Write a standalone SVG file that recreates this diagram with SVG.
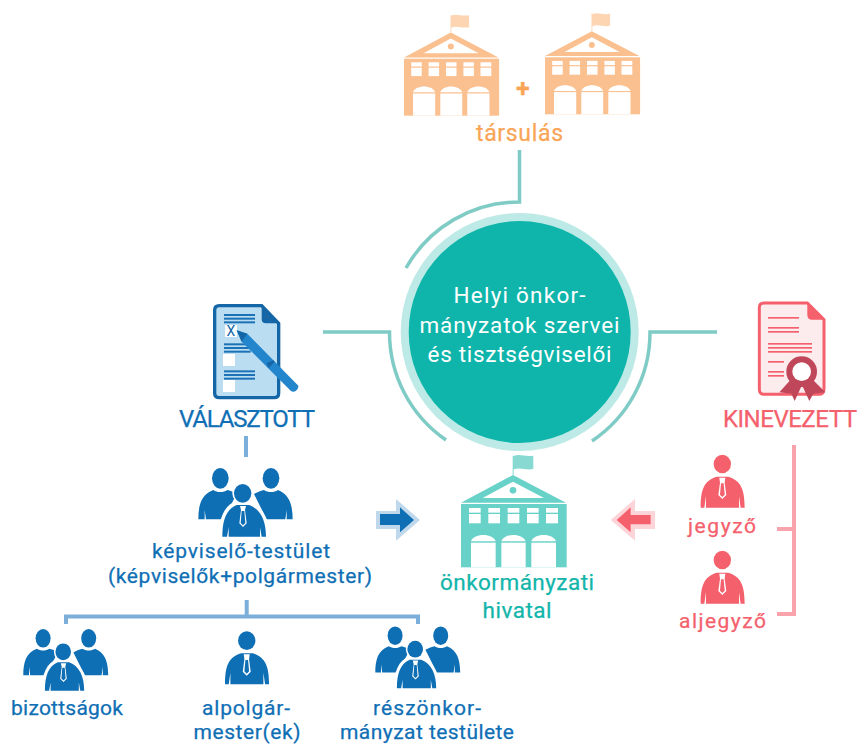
<svg xmlns="http://www.w3.org/2000/svg" xmlns:xlink="http://www.w3.org/1999/xlink" width="857" height="744" viewBox="0 0 857 744">
<style>
text{font-family:"Roboto","Noto Sans","Liberation Sans",sans-serif;font-size:21px;text-anchor:middle}
.b{fill:#0f6fb5;stroke:#0f6fb5;stroke-width:.25}.t{fill:#12b5aa;stroke:#12b5aa;stroke-width:.25}.r{fill:#f4606c;stroke:#f4606c;stroke-width:.25}.o{fill:#f9a557;stroke:#f9a557;stroke-width:.25}.w{fill:#fff}
.arc{fill:none;stroke:#7fcbc5;stroke-width:3.500}
.bl{fill:none;stroke:#7bafd9;stroke-width:4}
.pk{fill:none;stroke:#f9a3ad;stroke-width:4}
.ic{fill:#0f6fb5}.ir{fill:#f4606c}
</style>
<defs>
<symbol id="bld" overflow="visible" viewBox="0 0 1 1" width="1" height="1">
<path class="flag" d="M458,105V47H461V105ZM461,48C480,40 495,52 520,47V87C497,92 482,80 461,88Z" style="fill:var(--fl)"/>
<g style="fill:var(--bc)">
<path d="M459,105L618,188H303Z"/>
<rect x="303" y="192" width="317" height="190"/>
</g>
<g class="w">
<path d="M459,125L552,174H368Z"/>
<rect x="327" y="204" width="35" height="14"/><rect x="385" y="204" width="35" height="14"/><rect x="443" y="204" width="35" height="14"/><rect x="501" y="204" width="35" height="14"/><rect x="558" y="204" width="36" height="14"/>
<rect x="327" y="222" width="35" height="28"/><rect x="385" y="222" width="35" height="28"/><rect x="443" y="222" width="35" height="28"/><rect x="501" y="222" width="35" height="28"/><rect x="558" y="222" width="36" height="28"/>
<path d="M333,304C336,293 352,285 370,285S404,293 407,304ZM424,304C427,293 443,285 460,285S494,293 497,304ZM514,304C517,293 533,285 551,285S585,293 588,304Z"/>
<rect x="333" y="308" width="74" height="74"/><rect x="424" y="308" width="73" height="74"/><rect x="514" y="308" width="74" height="74"/>
</g>
<circle cx="459" cy="151" r="10" style="fill:var(--bc)"/>
</symbol>
<g id="person">
<ellipse cx="157" cy="72" rx="26" ry="28"/>
<path d="M92,203C92,148 102,122 140,110H175C213,122 224,148 224,203H212L207,168V203H108V168L103,203Z"/>
<path d="M148,113H166L164,128L169,165L157,177L145,165L150,128Z" fill="#fff"/>
<path d="M153,130H161L164,164L157,171L150,164Z"/>
</g>
<g id="team">
<ellipse cx="121" cy="85" rx="25" ry="31"/>
<ellipse cx="273" cy="85" rx="25" ry="31"/>
<path d="M55,208C55,165 64,133 100,120C112,128 130,128 142,120C155,123 162,126 170,132L130,208H78L74,180V208Z"/>
<path d="M338,208C338,165 328,133 294,120C282,128 264,128 252,120C240,123 232,126 222,132L260,208H316L320,180V208Z"/>
<ellipse cx="188" cy="130" rx="31" ry="33" fill="#fff"/>
<path d="M116,262C116,205 133,166 168,154H208C244,166 269,205 269,262Z" fill="#fff"/>
<ellipse cx="188" cy="130" rx="26" ry="28"/>
<path d="M127,260C127,212 138,178 170,165H208C242,178 258,212 258,260H245L240,232V260H146V232L141,260Z"/>
<path d="M180,168H198L195,180L200,220L189,231L178,220L183,180Z" fill="#fff"/>
<path d="M185,183H193L196,219L189,226L182,219Z"/>
</g>
</defs>

<g id="connectors">
<path class="arc" d="M519.5,150V202A130,130 0 0 0 406,268"/>
<path class="arc" d="M323,332H389.500A130.500,130.500 0 0 0 446,440"/>
<path class="arc" d="M717,332H650A130.500,130.500 0 0 1 592,441"/>
<path class="bl" d="M246,436V457"/>
<path class="bl" d="M246.700,600V616M66,624V616.500H418V624"/>
<path class="pk" d="M792,447H794V614H777M777,529H792"/>
</g>

<g id="tarsulas">
<g transform="translate(404,1.100) scale(.3) translate(-303,0)" style="--bc:#fbc08f;--fl:#fdd5b3"><use href="#bld" xlink:href="#bld"/></g>
<g transform="translate(545,-.3) scale(.3) translate(-303,0)" style="--bc:#fbc08f;--fl:#fdd5b3"><use href="#bld" xlink:href="#bld"/></g>
<text x="522.700" y="97" class="o" style="font-size:25px;font-weight:700">+</text>
<text x="519.500" y="141" class="o" textLength="87" style="font-size:23px">társulás</text>
</g>

<g id="kozponti">
<circle cx="519.700" cy="332" r="119" fill="#bdeae6"/>
<circle cx="519.700" cy="332" r="111" fill="#0fb5ab"/>
<text x="519.500" y="303" class="w" textLength="132" style="font-size:22.500px">Helyi önkor-</text>
<text x="519.500" y="333" class="w" textLength="200" style="font-size:22.500px">mányzatok szervei</text>
<text x="519.500" y="362" class="w" textLength="184" style="font-size:22.500px">és tisztségviselői</text>
</g>

<g id="valasztott" transform="translate(170,295) scale(.33333)">
<path d="M148,32H275L326,85V295Q326,308 313,308H148Q134,308 134,295V46Q134,32 148,32Z" fill="#bbddf2" stroke="#1566a6" stroke-width="10"/>
<path d="M275,28L330,85H288Q275,85 275,72Z" fill="#1566a6"/>
<g fill="#1b72b6"><rect x="162" y="57" width="93" height="6"/><rect x="162" y="68" width="93" height="6"/><rect x="162" y="79" width="93" height="6"/><rect x="162" y="145" width="75" height="6"/><rect x="162" y="156" width="80" height="6"/><rect x="162" y="167" width="80" height="6"/><rect x="162" y="226" width="93" height="6"/><rect x="162" y="237" width="93" height="6"/><rect x="162" y="248" width="93" height="6"/></g>
<rect x="165" y="90" width="36" height="36" fill="#fff"/>
<rect x="159" y="177" width="36" height="36" fill="#fff"/>
<rect x="159" y="255" width="36" height="36" fill="#fff"/>
<text x="183" y="122" fill="#1566a6" style="font-size:42px">X</text>
<path d="M200,106L232,116L385,272Q386,280 378,287Q370,293 362,287L215,140Z" fill="#2386cc"/>
<path d="M200,106L232,116L215,140Z" fill="#1566a6"/>
<path d="M290,204L310,196L314,200L296,219Z" fill="#1566a6"/>
</g>
<text id="valasztott-label" x="247" y="427" class="b" textLength="136" style="font-size:24px">VÁLASZTOTT</text>

<g id="kinevezett" transform="translate(720,295) scale(.33333)">
<path d="M132,24H262L312,74V282Q312,298 296,298H132Q118,298 118,282V38Q118,24 132,24Z" fill="#fdecee" stroke="#f4606c" stroke-width="9"/>
<path d="M262,22L315,74H276Q262,74 262,60Z" fill="#f4606c"/>
<g fill="#f4606c"><rect x="144" y="66" width="93" height="5"/><rect x="144" y="96" width="93" height="5"/><rect x="144" y="108" width="93" height="5"/><rect x="144" y="144" width="132" height="5"/><rect x="144" y="156" width="132" height="5"/><rect x="144" y="168" width="132" height="5"/><rect x="144" y="198" width="48" height="5"/><rect x="144" y="228" width="48" height="5"/><rect x="144" y="240" width="48" height="5"/></g>
<path d="M214,252L178,292L214,296L224,318L246,270L268,318L280,296L316,292L276,252Z" fill="#c0475a"/>
<circle cx="245" cy="230" r="46" fill="#c0475a"/>
<circle cx="245" cy="230" r="28" fill="#fff"/>
</g>
<text id="kinevezett-label" x="790" y="427" class="r" textLength="134" style="font-size:24px">KINEVEZETT</text>

<g id="kepviselo">
<g class="ic" transform="translate(180,450) scale(.33333)"><use href="#team" xlink:href="#team"/></g>
<text x="241" y="558" class="b" textLength="178">képviselő-testület</text>
<text x="240" y="583" class="b" textLength="264">(képviselők+polgármester)</text>
</g>

<g id="bizottsagok">
<g class="ic" transform="translate(6.800,612.800) scale(.3)"><use href="#team" xlink:href="#team"/></g>
<text x="67" y="715" class="b" textLength="112">bizottságok</text>
</g>
<g id="alpolgarmester">
<g class="ic" transform="translate(194.400,616.700) scale(.33333)"><use href="#person" xlink:href="#person"/></g>
<text x="246" y="715" class="b" textLength="88">alpolgár-</text>
<text x="247" y="738.800" class="b" textLength="107">mester(ek)</text>
</g>
<g id="reszonkormanyzat">
<g class="ic" transform="translate(358.800,610.200) scale(.3)"><use href="#team" xlink:href="#team"/></g>
<text x="427" y="715" class="b" textLength="108">részönkor-</text>
<text x="427" y="738.800" class="b" textLength="174">mányzat testülete</text>
</g>

<g id="hivatal">
<g transform="translate(360,440) scale(.33333)" style="--bc:#68d1c8;--fl:#87d9d2"><use href="#bld" xlink:href="#bld"/></g>
<text x="517" y="590" class="t" textLength="154" style="font-size:22.500px">önkormányzati</text>
<text x="517" y="618" class="t" textLength="69" style="font-size:22.500px">hivatal</text>
</g>

<g id="arrow-blue" transform="translate(360,440) scale(.33333)">
<path d="M48,213H108V177L180,240L108,302V267H48Z" fill="#bfd8ec"/>
<path d="M60,222H120V202L162,240L120,277V255H60Z" fill="#0f6fb5"/>
</g>
<g id="arrow-red" transform="translate(360,440) scale(.33333)">
<path d="M885,213H825V177L752,240L825,302V267H885Z" fill="#fdd5d9"/>
<path d="M872,225H812V202L770,240L812,277V253H872Z" fill="#f4606c"/>
</g>

<g id="jegyzo">
<g class="ir" transform="translate(670,440) scale(.33333)"><use href="#person" xlink:href="#person"/></g>
<text x="722" y="533" class="r" textLength="68">jegyző</text>
</g>
<g id="aljegyzo">
<g class="ir" transform="translate(670,536) scale(.33333)"><use href="#person" xlink:href="#person"/></g>
<text x="722.500" y="628" class="r" textLength="87">aljegyző</text>
</g>
</svg>
